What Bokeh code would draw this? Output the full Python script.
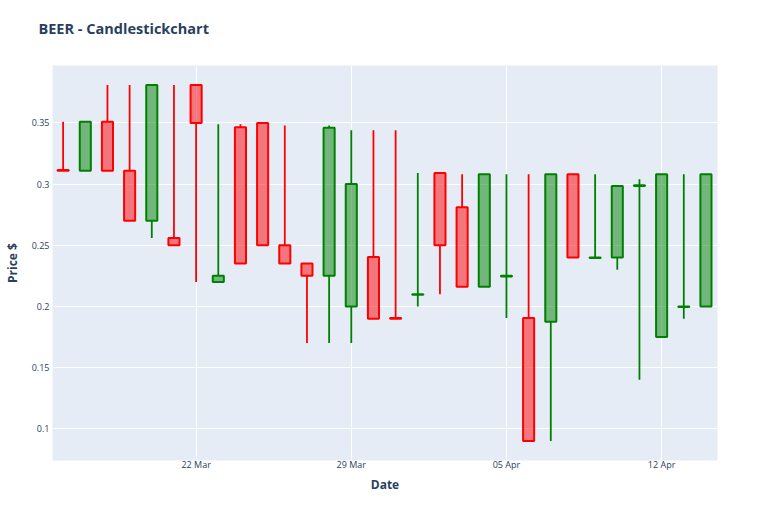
import pandas as pd
import numpy as np
from bokeh.plotting import figure
from bokeh.models import ColumnDataSource, FixedTicker, DatetimeTickFormatter, Range1d, Title
from bokeh.embed import file_html
from bokeh.resources import INLINE

# ---- data ----
dates = pd.date_range("2021-03-16", "2021-04-14", freq="D")
open_ = [0.3115, 0.311, 0.351, 0.311, 0.270, 0.256, 0.381, 0.220, 0.3465, 0.350,
         0.250, 0.235, 0.225, 0.200, 0.2405, 0.1905, 0.2095, 0.309, 0.281, 0.216,
         0.2245, 0.1905, 0.1875, 0.308, 0.2395, 0.240, 0.2985, 0.175, 0.1995, 0.200]
high = [0.351, 0.351, 0.381, 0.381, 0.381, 0.381, 0.381, 0.349, 0.349, 0.350,
        0.348, 0.235, 0.348, 0.344, 0.344, 0.344, 0.309, 0.309, 0.308, 0.308,
        0.308, 0.308, 0.308, 0.308, 0.308, 0.2985, 0.304, 0.308, 0.308, 0.308]
low = [0.311, 0.311, 0.311, 0.270, 0.256, 0.250, 0.220, 0.220, 0.235, 0.250,
       0.235, 0.170, 0.170, 0.170, 0.190, 0.190, 0.200, 0.210, 0.216, 0.216,
       0.1905, 0.090, 0.090, 0.240, 0.2395, 0.230, 0.140, 0.175, 0.190, 0.200]
close = [0.311, 0.351, 0.311, 0.270, 0.381, 0.250, 0.350, 0.225, 0.235, 0.250,
         0.235, 0.225, 0.346, 0.300, 0.190, 0.190, 0.210, 0.250, 0.216, 0.308,
         0.225, 0.090, 0.308, 0.240, 0.240, 0.2985, 0.299, 0.308, 0.200, 0.308]

tick_dates = ["2021-03-22", "2021-03-29", "2021-04-05", "2021-04-12"]
y_ticks = [0.1, 0.15, 0.2, 0.25, 0.3, 0.35]
y_tick_labels = ["0.1", "0.15", "0.2", "0.25", "0.3", "0.35"]

INC_COLOR = "#008000"
DEC_COLOR = "#FF0000"
TEXT = "#2a3f5f"
FONT = "Open Sans"

o = np.array(open_); c = np.array(close); h = np.array(high); l = np.array(low)
inc = c >= o
src = ColumnDataSource(dict(
    x=dates, top=np.maximum(o, c), bottom=np.minimum(o, c), high=h, low=l,
    color=np.where(inc, INC_COLOR, DEC_COLOR),
))

day = 24 * 3600 * 1000
x0 = dates[0] - pd.Timedelta(hours=11.5)
x1 = dates[-1] + pd.Timedelta(hours=12.5)

p = figure(width=768, height=512, output_backend="svg", toolbar_location=None,
           x_axis_type="datetime", x_range=Range1d(x0, x1), y_range=Range1d(0.074, 0.397),
           min_border_left=52, min_border_right=51, min_border_top=64, min_border_bottom=52)

p.segment(x0="x", y0="high", x1="x", y1="top", line_color="color", line_width=1.8, source=src)
p.segment(x0="x", y0="bottom", x1="x", y1="low", line_color="color", line_width=1.8, source=src)
p.vbar(x="x", width=0.5 * day, top="top", bottom="bottom", fill_color="color", fill_alpha=0.5,
       line_color="color", line_width=2, source=src)

p.title.text = "BEER - Candlestickchart"
p.title.text_font = FONT
p.title.text_font_size = "14.5px"
p.title.text_font_style = "bold"
p.title.text_color = TEXT
p.title.offset = -14
p.title.vertical_align = "top"
p.title.standoff = 37
# small spacer between title and plot frame (pushes title upward)
p.add_layout(Title(text=" ", text_font_size="1px", standoff=4), "above")

p.background_fill_color = "#E5ECF6"
p.border_fill_color = "white"
p.outline_line_color = None

p.xaxis.ticker = FixedTicker(ticks=[pd.Timestamp(d).value / 1e6 for d in tick_dates])
p.xaxis.formatter = DatetimeTickFormatter(days="%d %b", months="%d %b", hours="%d %b")
p.yaxis.ticker = FixedTicker(ticks=y_ticks)
p.yaxis.major_label_overrides = {t: s for t, s in zip(y_ticks, y_tick_labels)}

for ax in (p.xaxis[0], p.yaxis[0]):
    ax.axis_line_color = None
    ax.major_tick_line_color = None
    ax.minor_tick_line_color = None
    ax.major_tick_out = 0
    ax.major_tick_in = 0
    ax.minor_tick_out = 0
    ax.major_label_text_font = FONT
    ax.major_label_text_font_size = "9px"
    ax.major_label_text_color = TEXT
    ax.axis_label_text_font = FONT
    ax.axis_label_text_font_size = "12px"
    ax.axis_label_text_font_style = "bold"
    ax.axis_label_text_color = TEXT

p.xaxis.axis_label = "Date"
p.yaxis.axis_label = "Price $"
p.xaxis.major_label_standoff = -3
p.xaxis.axis_label_standoff = 2
p.yaxis.major_label_standoff = 3
p.yaxis.axis_label_standoff = 8

p.xgrid.grid_line_color = "white"
p.ygrid.grid_line_color = "white"
p.xgrid.grid_line_width = 1
p.ygrid.grid_line_width = 1

open("out.html", "w").write(file_html(p, INLINE))
